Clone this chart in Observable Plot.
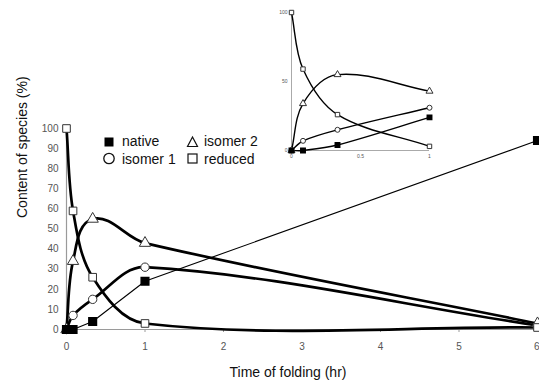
<!DOCTYPE html>
<html><head><meta charset="utf-8">
<script src="https://cdn.jsdelivr.net/npm/d3@7"></script>
<script src="https://cdn.jsdelivr.net/npm/@observablehq/plot@0.6"></script>
<style>
body{margin:0;background:#fff;font-family:"Liberation Sans",Arial,sans-serif}
#wrap{position:relative;width:539px;height:385px;overflow:hidden;background:#fff}
#wrap > svg, #wrap > figure{position:absolute;margin:0}
</style></head><body><div id="wrap"></div>
<script>
// Data (time in hours)
const time = [0, 1/12, 1/3, 1, 6];
const native = [0, 0, 4, 24, 94];
const isomer1 = [0, 7, 15, 31, 2];
const isomer2 = [0, 34, 55, 43, 3];
const reduced = [100, 59, 26, 3, 1];
const xTicks = [0, 1, 2, 3, 4, 5];
const xLastTick = [6];
const yTicks = [0, 10, 20, 30, 40, 50, 60, 70, 80, 90, 100];
const insetMaxTime = 1;
const insetXTicks = [0, 0.5, 1];
const insetYTicks = [0, 50, 100];
const xLabel = "Time of folding (hr)";
const yLabel = "Content of species (%)";
const legendNames = ["native", "isomer 1", "isomer 2", "reduced"];

const rows = (vals, maxT = Infinity) => time.map((t, i) => ({t, v: vals[i]})).filter(d => d.t <= maxT);
const font = "Liberation Sans, Arial, sans-serif";
const fmt = d => String(d);

// Spreadsheet-style smoothed line: Bezier segments, tangent along neighbours, length = chord/3
function smoothCurve(context) {
  let pts;
  return {
    areaStart() {}, areaEnd() {},
    lineStart() { pts = []; },
    point(x, y) { pts.push([+x, +y]); },
    lineEnd() {
      const n = pts.length;
      if (!n) return;
      context.moveTo(pts[0][0], pts[0][1]);
      if (n === 1) return;
      const dirs = pts.map((p, i) => {
        const a = pts[Math.max(0, i - 1)], b = pts[Math.min(n - 1, i + 1)];
        const dx = b[0] - a[0], dy = b[1] - a[1], L = Math.hypot(dx, dy) || 1;
        return [dx / L, dy / L];
      });
      for (let i = 0; i < n - 1; i++) {
        const p = pts[i], q = pts[i + 1];
        const L = Math.hypot(q[0] - p[0], q[1] - p[1]) / 3;
        context.bezierCurveTo(p[0] + dirs[i][0] * L, p[1] + dirs[i][1] * L,
                              q[0] - dirs[i + 1][0] * L, q[1] - dirs[i + 1][1] * L, q[0], q[1]);
      }
    }
  };
}

function seriesMarks(maxT, thick, thin, rs, smoothNative) {
  const open = {x: "t", y: "v", fill: "white", stroke: "#333", strokeWidth: 1};
  return [
    Plot.line(rows(native, maxT), {x: "t", y: "v", stroke: "black", strokeWidth: thin, curve: smoothNative ? smoothCurve : "linear"}),
    Plot.line(rows(isomer1, maxT), {x: "t", y: "v", stroke: "black", strokeWidth: thick, curve: smoothCurve}),
    Plot.line(rows(isomer2, maxT), {x: "t", y: "v", stroke: "black", strokeWidth: thick, curve: smoothCurve}),
    Plot.line(rows(reduced, maxT), {x: "t", y: "v", stroke: "black", strokeWidth: thick, curve: smoothCurve}),
    Plot.dot(rows(isomer1, maxT), {...open, symbol: "circle", r: rs.c}),
    Plot.dot(rows(isomer2, maxT), {...open, symbol: "triangle", r: rs.t}),
    Plot.dot(rows(reduced, maxT), {...open, symbol: "square", r: rs.s}),
    Plot.dot(rows(native, maxT), {x: "t", y: "v", symbol: "square", r: rs.s, fill: "black", stroke: "black"})
  ];
}

const main = Plot.plot({
  width: 539, height: 385,
  marginLeft: 66, marginRight: 2, marginTop: 128, marginBottom: 56,
  x: {domain: [0, 6]},
  y: {domain: [0, 100]},
  style: {fontFamily: font, fontSize: "10px", background: "transparent", overflow: "visible"},
  marks: [
    Plot.ruleY([0], {stroke: "#9a9a9a", strokeWidth: 1.2}),
    Plot.ruleX([0], {stroke: "#9a9a9a", strokeWidth: 1.2}),
    Plot.axisY({ticks: yTicks, tickFormat: fmt, tickSize: 0, tickPadding: 8, fill: "#555", label: null}),
    Plot.axisX({ticks: xTicks, tickFormat: fmt, tickSize: 3, tickPadding: 10, stroke: "#9a9a9a", fill: "#555", label: null}),
    Plot.axisX({ticks: xLastTick, tickFormat: fmt, tickSize: 3, tickPadding: 10, stroke: "#9a9a9a", fill: "#555", label: null, textAnchor: "end", dx: 2}),
    ...seriesMarks(Infinity, 2.7, 1.1, {c: 4.2, t: 4.2, s: 4.3}, false),
    Plot.text([yLabel], {frameAnchor: "left", rotate: -90, dx: -44, dy: -11, fontSize: 14, fill: "#111"}),
    Plot.text([xLabel], {frameAnchor: "bottom", dx: -14, dy: 47, fontSize: 14, fill: "#111"})
  ]
});
main.style.left = "0px"; main.style.top = "0px";

const inset = Plot.plot({
  width: 170, height: 165,
  marginLeft: 21, marginRight: 11, marginTop: 12, marginBottom: 15,
  x: {domain: [0, insetMaxTime]},
  y: {domain: [0, 100]},
  style: {fontFamily: font, fontSize: "5px", background: "transparent", overflow: "visible"},
  marks: [
    Plot.ruleY([0], {stroke: "#aaa", strokeWidth: 1}),
    Plot.ruleX([0], {stroke: "#aaa", strokeWidth: 1}),
    Plot.axisY({ticks: insetYTicks, tickFormat: fmt, tickSize: 0, tickPadding: 4, fill: "#555", label: null}),
    Plot.axisX({ticks: insetXTicks, tickFormat: fmt, tickSize: 0, tickPadding: 4, fill: "#555", label: null}),
    ...seriesMarks(insetMaxTime, 1.4, 1.4, {c: 2.5, t: 2.6, s: 2.5}, true)
  ]
});
inset.style.left = "270px"; inset.style.top = "0px";

const wrap = document.getElementById("wrap");
wrap.appendChild(main);
wrap.appendChild(inset);

// Legend
const NS = "http://www.w3.org/2000/svg";
const leg = document.createElementNS(NS, "svg");
leg.setAttribute("width", 170); leg.setAttribute("height", 36);
leg.style.left = "100px"; leg.style.top = "132px";
leg.innerHTML = `
  <rect x="4.5" y="5.5" width="9" height="9" fill="black"/>
  <text x="22" y="14" font-size="14" font-family="${font}" fill="#111">${legendNames[0]}</text>
  <circle cx="9" cy="26.5" r="5.2" fill="white" stroke="#111" stroke-width="1.3"/>
  <text x="22" y="32" font-size="14" font-family="${font}" fill="#111">${legendNames[1]}</text>
  <path d="M92.5,5 L97.5,14.5 L87.5,14.5 Z" fill="white" stroke="#111" stroke-width="1.2"/>
  <text x="104" y="14" font-size="14" font-family="${font}" fill="#111">${legendNames[2]}</text>
  <rect x="88" y="22" width="9" height="9" fill="white" stroke="#111" stroke-width="1.2"/>
  <text x="104" y="32" font-size="14" font-family="${font}" fill="#111">${legendNames[3]}</text>`;
wrap.appendChild(leg);
</script></body></html>
